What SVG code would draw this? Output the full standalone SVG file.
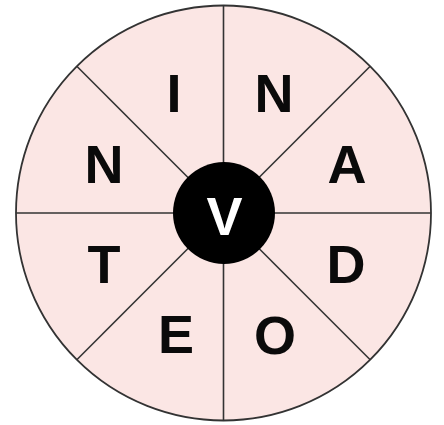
<svg xmlns="http://www.w3.org/2000/svg" width="444" height="425" viewBox="0 0 444 425">
<style>
.seg{stroke:#333;stroke-width:1.6;}
.let{font-family:"Liberation Sans",Arial,sans-serif;font-weight:bold;font-size:54px;fill:#0a0a0a;text-anchor:middle;}
.hub{font-family:"Liberation Sans",Arial,sans-serif;font-weight:bold;font-size:54px;fill:#ffffff;text-anchor:middle;}
</style>
<rect width="444" height="425" fill="#ffffff"/>
<g id="wheel">
<circle cx="223.5" cy="213" r="207.5" fill="#fbe6e4" stroke="#333" stroke-width="1.8"/>
</g>
<g id="connectors">
<line class="seg" x1="223.5" y1="5.5" x2="223.5" y2="420.5"/>
<line class="seg" x1="16" y1="213" x2="431" y2="213"/>
<line class="seg" x1="76.8" y1="66.3" x2="370.2" y2="359.7"/>
<line class="seg" x1="370.2" y1="66.3" x2="76.8" y2="359.7"/>
</g>
<g id="hub">
<circle cx="224" cy="213" r="51" fill="#000"/>
<text class="hub" x="224.5" y="235">V</text>
</g>
<g id="letter-I"><text class="let" x="174" y="112">I</text></g>
<g id="letter-N1"><text class="let" x="274" y="112">N</text></g>
<g id="letter-A"><text class="let" x="347" y="183">A</text></g>
<g id="letter-D"><text class="let" x="346" y="282.5">D</text></g>
<g id="letter-O"><text class="let" x="275" y="354">O</text></g>
<g id="letter-E"><text class="let" x="176" y="353">E</text></g>
<g id="letter-T"><text class="let" x="104" y="283">T</text></g>
<g id="letter-N2"><text class="let" x="104" y="183">N</text></g>
</svg>
